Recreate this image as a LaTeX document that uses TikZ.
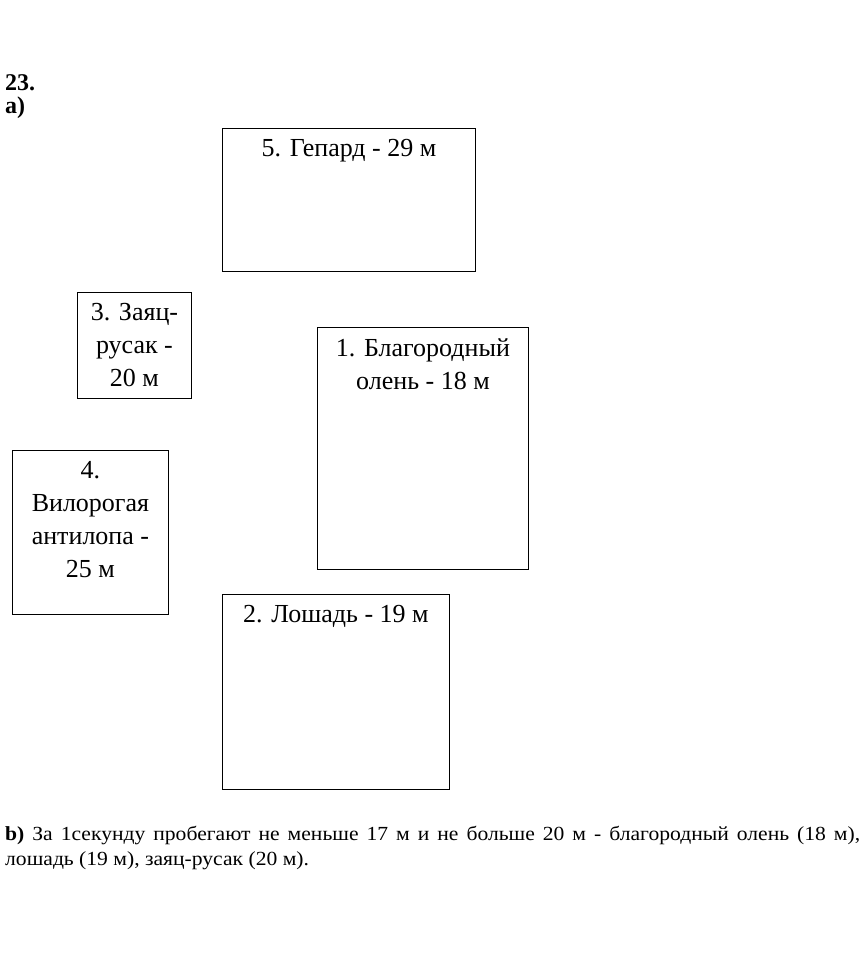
\documentclass[tikz,border=0pt]{standalone}
\usepackage{fontspec}
\setmainfont{Liberation Serif}
\newfontfamily\answerfont[FakeStretch=1.08]{Liberation Serif}
\usetikzlibrary{positioning}

\begin{document}
\begin{tikzpicture}[
		x=1pt, y=-1pt,
		font=\fontsize{26}{33}\selectfont,
		animalbox/.style={draw, line width=0.9pt, anchor=north west, inner sep=0pt},
		animaltext/.style={align=center, inner sep=0pt, below=11pt of #1},
		heading/.style={anchor=base west, inner sep=0pt, font=\fontsize{24}{28}\selectfont\bfseries}
		]
		
		\useasboundingbox (0,0) rectangle (866,968);
		
		% =========================================================
		% 1. Task heading
		% =========================================================
		\node[heading] (task) at (5,91) {23.};
		\node[heading] (parta) at (5,114) {a)};
		
		% =========================================================
		% 2. Animal boxes
		% =========================================================
		\node[animalbox, minimum width=253pt, minimum height=143pt] (gepard) at (222,128) {};
		\node[animaltext=gepard.north] (gepardtext) {5. Гепард - 29 м};
		
		\node[animalbox, minimum width=114pt, minimum height=106pt] (zayac) at (77,292) {};
		\node[animaltext=zayac.north] (zayactext) {3. Заяц-\\русак -\\20 м};
		
		\node[animalbox, minimum width=156pt, minimum height=164pt] (antilopa) at (12,450) {};
		\node[animaltext=antilopa.north] (antilopatext) {4.\\Вилорогая\\антилопа -\\25 м};
		
		\node[animalbox, minimum width=211pt, minimum height=242pt] (olen) at (317,327) {};
		\node[animaltext=olen.north] (olentext) {1. Благородный\\олень - 18 м};
		
		\node[animalbox, minimum width=227pt, minimum height=195pt] (loshad) at (222,594) {};
		\node[animaltext=loshad.north] (loshadtext) {2. Лошадь - 19 м};
		
		% =========================================================
		% 3. Answer to part b
		% =========================================================
		\node[anchor=north west, inner sep=0pt, text width=855pt, align=justify,
			font=\answerfont\fontsize{20}{25}\selectfont] (answer) at (5,826) {
			\textbf{b)} За 1секунду пробегают не меньше 17 м и не больше 20 м - благородный олень (18 м),\linebreak
			лошадь (19 м), заяц-русак (20 м).
		};
	\end{tikzpicture}
\end{document}
